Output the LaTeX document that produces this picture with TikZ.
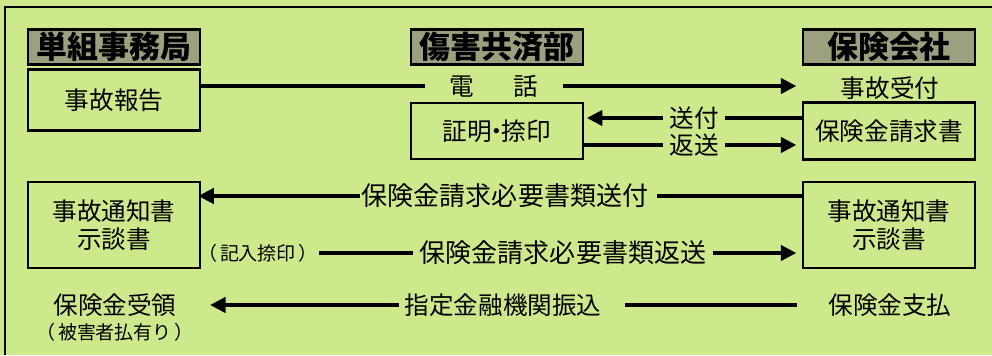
\documentclass[tikz,border=0pt]{standalone}
\usepackage{fontspec}
\setmainfont{Noto Sans CJK JP}
\usetikzlibrary{arrows.meta,positioning,calc}
\definecolor{bggreen}{RGB}{206,233,140}
\definecolor{hdrgray}{RGB}{156,160,126}
\newcommand{\bodyfont}{\fontsize{17.5}{20}\selectfont}
\newcommand{\smallfont}{\fontsize{13.5}{15}\selectfont}
\tikzstyle{header}=[draw, line width=1.6pt, fill=hdrgray, minimum width=4.3cm, minimum height=0.875cm, inner sep=0pt, font=\fontsize{22}{24}\selectfont\bfseries]
\tikzstyle{docbox}=[draw, line width=1.6pt, minimum width=4.3cm, align=center, inner sep=0pt, font=\bodyfont]
\tikzstyle{msg}=[inner sep=1pt, font=\bodyfont]
\tikzstyle{smalltxt}=[inner sep=1pt, font=\smallfont]
\tikzstyle{link}=[line width=2.2pt]
\tikzstyle{flow}=[line width=2.2pt, -{Triangle[length=11pt,width=11pt]}, shorten >=4pt]

\begin{document}
\begin{tikzpicture}[x=0.025cm, y=-0.025cm]

\fill[bggreen] (0,0) rectangle (992,355);
\useasboundingbox (0,0) rectangle (992,355);
\draw[line width=2pt] (5,355) -- (5,7) -- (992,7);

% headers
\node[header] (hdrA) at (114,47) {単組事務局};
\node[header] (hdrB) at (497,47) {傷害共済部};
\node[header] (hdrC) at (889,47) {保険会社};

% accident report
\node[docbox, minimum height=1.525cm] (accA) at (114,100) {事故報告};
\node[msg, inner xsep=0.6cm] (tel) at (494,86) {電\hspace{1cm}話};
\node[msg] (recvC) at (890,88) {事故受付};
\draw[link] (accA.east |- tel.west) -- (tel.west);
\draw[flow] (tel.east) -- (tel.east -| hdrC.west);

% claim form
\node[docbox, minimum height=1.4cm] (certB) at (497,131) {証明\kern-0.3em・\kern-0.3em捺印};
\node[docbox, minimum height=1.425cm] (claimC) at (889,131) {保険金請求書};
\node[msg, inner xsep=4pt] (send) at (694,118) {送付};
\node[msg, inner xsep=4pt] (back) at (694,145) {返送};
\draw[link] (claimC.west |- send) -- (send.east);
\draw[flow, shorten >=2pt] (send.west) -- (certB.east |- send);
\draw[link] (certB.east |- back) -- (back.west);
\draw[flow] (back.east) -- (claimC.west |- back);

% documents
\node[docbox, minimum height=2.15cm] (noteA) at (114,225) {事故通知書\\示談書};
\node[docbox, minimum height=2.15cm] (noteC) at (889,225) {事故通知書\\示談書};
\node[msg, font=\fontsize{18.5}{20}\selectfont] (req) at (505,196) {保険金請求必要書類送付};
\node[smalltxt] (stamp) at (258,253) {（\kern0.15em記入捺印\kern0.15em）};
\node[msg, font=\fontsize{18.5}{20}\selectfont, inner xsep=5pt] (reqback) at (563,253) {保険金請求必要書類返送};
\draw[link] (noteC.west |- req) -- ([xshift=5pt]req.east);
\draw[flow, shorten >=-2pt] (req.west) -- (noteA.east |- req);
\draw[link] (stamp.east) -- (reqback.west);
\draw[flow] (reqback.east) -- (noteC.west |- reqback);

% payment
\node[msg] (recvA) at (115,305) {保険金受領};
\node[smalltxt] (victim) at (115,332) {（\kern0.15em被害者払有り\kern0.15em）};
\node[msg, inner xsep=4pt] (bank) at (503,305) {指定金融機関振込};
\node[msg] (payC) at (890,305) {保険金支払};
\draw[flow, shorten >=0pt] (bank.west) -- ($(noteA.east |- bank)+(9,0)$);
\draw[link] ($(bank.east)+(18,0)$) -- ($(noteC.west |- bank)+(-5,0)$);

\end{tikzpicture}
\end{document}
